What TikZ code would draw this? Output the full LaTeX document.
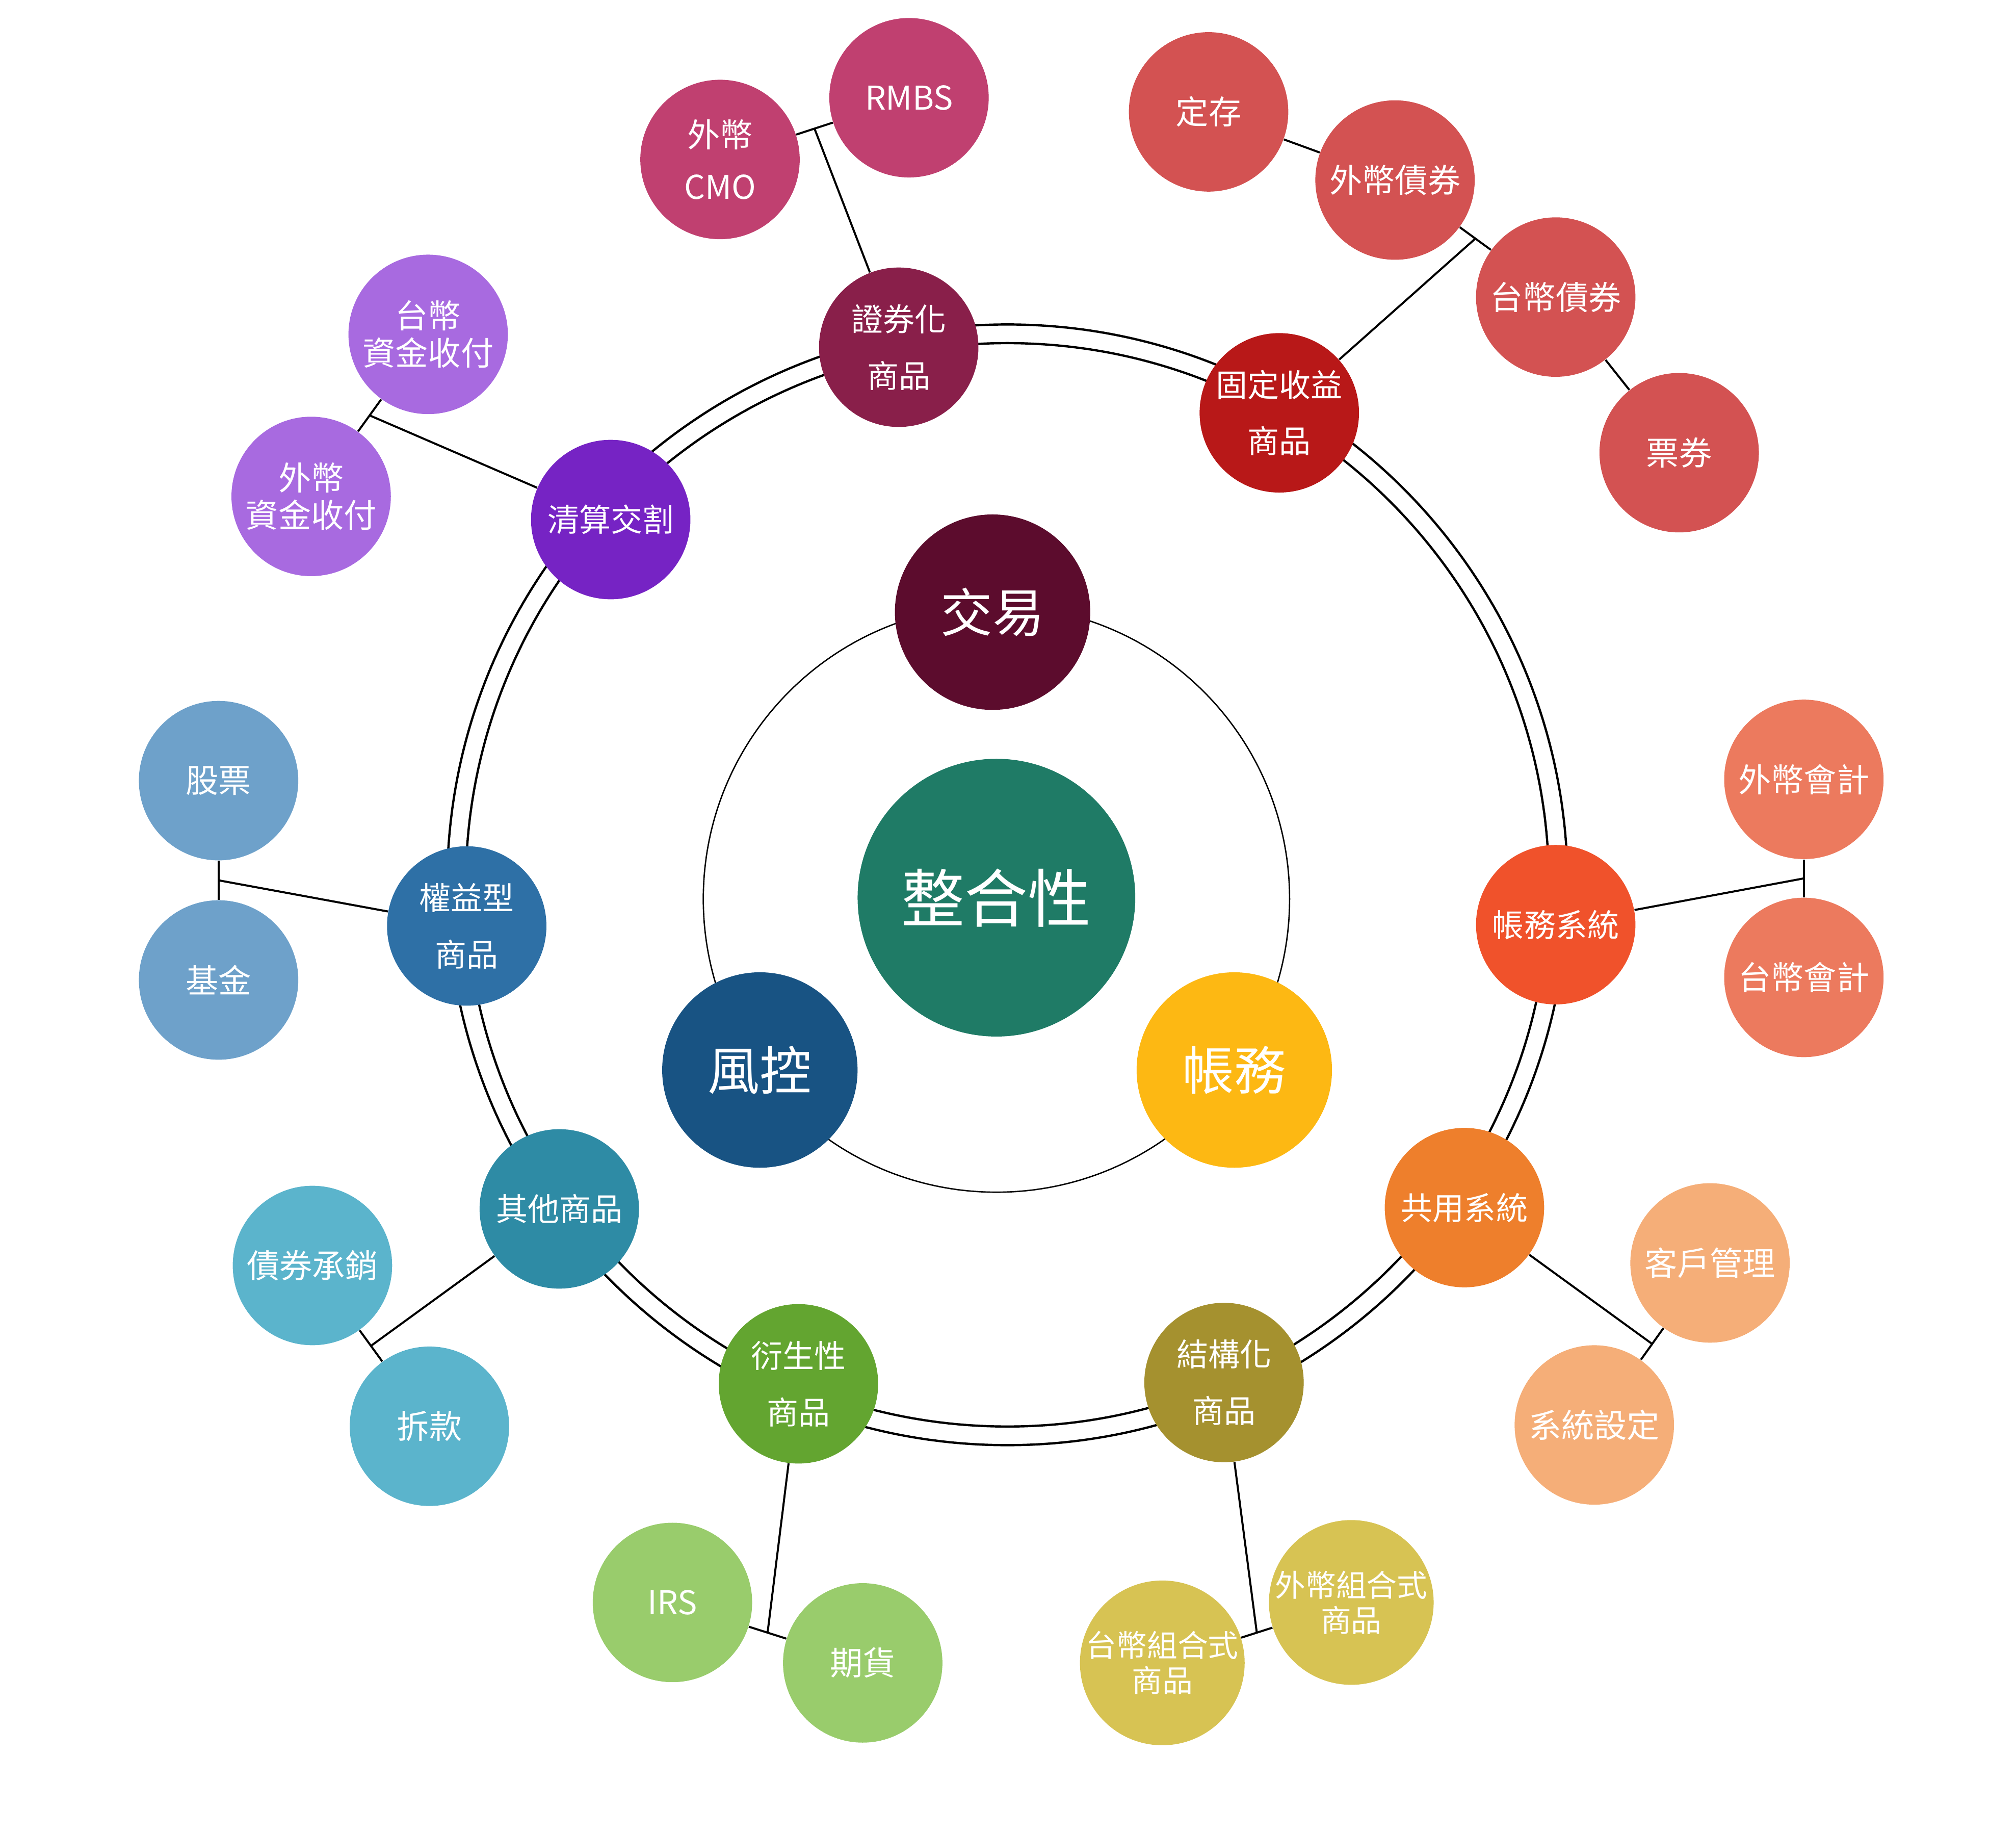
\documentclass[tikz,border=0pt]{standalone}
\usepackage{fontspec}
\setmainfont{Noto Sans CJK TC}
\usetikzlibrary{calc}

\definecolor{coreGreen}{HTML}{1F7B66}
\definecolor{tradeRed}{HTML}{5C0C2D}
\definecolor{riskBlue}{HTML}{185383}
\definecolor{bookGold}{HTML}{FDB813}
\definecolor{secPlum}{HTML}{891F4A}
\definecolor{secPink}{HTML}{C04070}
\definecolor{fixRed}{HTML}{B81818}
\definecolor{fixRose}{HTML}{D35252}
\definecolor{clrPurple}{HTML}{7623C4}
\definecolor{clrLilac}{HTML}{A86AE0}
\definecolor{eqBlue}{HTML}{2E70A6}
\definecolor{eqSky}{HTML}{6EA1CA}
\definecolor{accOrange}{HTML}{F0522B}
\definecolor{accCoral}{HTML}{EC7A5E}
\definecolor{othTeal}{HTML}{2E8BA5}
\definecolor{othCyan}{HTML}{5BB4CC}
\definecolor{sysOrange}{HTML}{EE7F2C}
\definecolor{sysPeach}{HTML}{F5AE78}
\definecolor{derGreen}{HTML}{63A530}
\definecolor{derLime}{HTML}{99CC6C}
\definecolor{strOlive}{HTML}{A5912F}
\definecolor{strSand}{HTML}{D7C353}

\begin{document}
\begin{tikzpicture}[
    x=0.02cm, y=-0.02cm,
    link/.style={draw=black, line width=0.9pt},
    ring/.style={draw=black, line width=1pt},
    core/.style={
        circle,
        inner sep=0pt,
        minimum size=4.32cm,
        fill=coreGreen,
        text=white,
        font=\fontsize{28}{32}\selectfont
    },
    pillar/.style={
        circle,
        inner sep=0pt,
        minimum size=3.04cm,
        text=white,
        font=\fontsize{23}{27}\selectfont
    },
    branch/.style={
        circle,
        inner sep=0pt,
        minimum size=2.48cm,
        text=white,
        align=center,
        font=\fontsize{14}{25}\selectfont
    },
    leaf/.style={
        circle,
        inner sep=0pt,
        minimum size=2.48cm,
        text=white,
        align=center,
        font=\fontsize{14.5}{16.5}\selectfont
    }
]
\useasboundingbox (0,0) rectangle (1568,1426);

% Rings
\coordinate (ringC) at (783.5,688);
\coordinate (innerC) at (775,699);
\draw[ring] (ringC) circle[radius=435.7];
\draw[ring] (ringC) circle[radius=421.2];
\draw[line width=0.6pt] (innerC) circle[radius=228];

% Centre
\node[core] (core) at (775,698) {整合性};
\node[pillar, fill=tradeRed] (trade) at (772,476) {交易};
\node[pillar, fill=riskBlue] (risk) at (591,832) {風控};
\node[pillar, fill=bookGold] (book) at (960,832) {帳務};

% Branches on the ring
\node[branch, fill=secPlum] (sec) at (699,270) {證券化\\商品};
\node[branch, fill=fixRed] (fix) at (995,321) {固定收益\\商品};
\node[branch, fill=clrPurple] (clr) at (475,404) {清算交割};
\node[branch, fill=eqBlue] (eq) at (363,720) {權益型\\商品};
\node[branch, fill=accOrange] (acc) at (1210,719) {帳務系統};
\node[branch, fill=othTeal] (oth) at (435,940) {其他商品};
\node[branch, fill=sysOrange] (sys) at (1139,939) {共用系統};
\node[branch, fill=derGreen] (der) at (621,1076) {衍生性\\商品};
\node[branch, fill=strOlive] (str) at (952,1075) {結構化\\商品};

% Leaves
\node[leaf, fill=secPink] (cmo) at (560,124) {外幣\\[6.5pt]CMO};
\node[leaf, fill=secPink] (rmbs) at (707,76) {RMBS};
\node[leaf, fill=fixRose] (dep) at (940,87) {定存};
\node[leaf, fill=fixRose] (fxbond) at (1085,140) {外幣債券};
\node[leaf, fill=fixRose] (ntbond) at (1210,231) {台幣債券};
\node[leaf, fill=fixRose] (bill) at (1306,352) {票券};
\node[leaf, fill=clrLilac] (ntpay) at (333,260) {台幣\\資金收付};
\node[leaf, fill=clrLilac] (fxpay) at (242,386) {外幣\\資金收付};
\node[leaf, fill=eqSky] (stock) at (170,607) {股票};
\node[leaf, fill=eqSky] (fund) at (170,762) {基金};
\node[leaf, fill=accCoral] (fxacc) at (1403,606) {外幣會計};
\node[leaf, fill=accCoral] (ntacc) at (1403,760) {台幣會計};
\node[leaf, fill=othCyan] (uw) at (243,984) {債券承銷};
\node[leaf, fill=othCyan] (call) at (334,1109) {拆款};
\node[leaf, fill=sysPeach] (crm) at (1330,982) {客戶管理};
\node[leaf, fill=sysPeach] (cfg) at (1240,1108) {系統設定};
\node[leaf, fill=derLime] (irs) at (523,1246) {IRS};
\node[leaf, fill=derLime] (fut) at (671,1293) {期貨};
\node[leaf, fill=strSand, font=\fontsize{13.5}{15.5}\selectfont] (ntmix) at (904,1293) {台幣組合式\\商品};
\node[leaf, fill=strSand, font=\fontsize{13.5}{15.5}\selectfont] (fxmix) at (1051,1246) {外幣組合式\\商品};

% Leaf pairs
\draw[link] (cmo) -- (rmbs);
\draw[link] (dep) -- (fxbond);
\draw[link] (fxbond) -- (ntbond);
\draw[link] (ntbond) -- (bill);
\draw[link] (ntpay) -- (fxpay);
\draw[link] (stock) -- (fund);
\draw[link] (fxacc) -- (ntacc);
\draw[link] (uw) -- (call);
\draw[link] (crm) -- (cfg);
\draw[link] (irs) -- (fut);
\draw[link] (ntmix) -- (fxmix);

% Branch -> pair
\foreach \b/\p/\q in {sec/cmo/rmbs, fix/fxbond/ntbond, clr/ntpay/fxpay,
    eq/stock/fund, acc/fxacc/ntacc, oth/uw/call, sys/crm/cfg,
    der/irs/fut, str/ntmix/fxmix}
    \draw[link] (\b) -- ($(\p)!0.5!(\q)$);

\end{tikzpicture}
\end{document}
